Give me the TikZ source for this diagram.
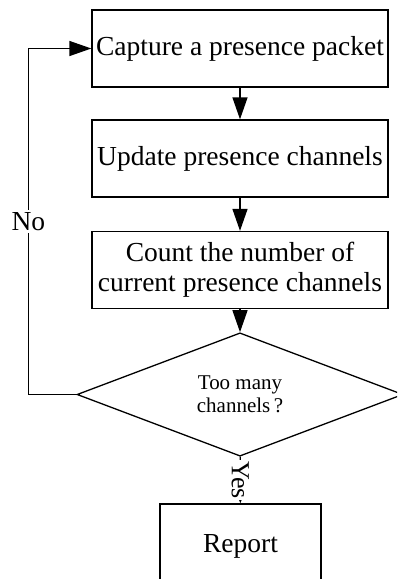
\documentclass[tikz,border=0pt]{standalone}
\usepackage{fontspec}
\setmainfont{Liberation Serif}
\usepackage{tikz}
\usetikzlibrary{arrows.meta,shapes.geometric}

\tikzset{
  block/.style={draw, line width=1.3pt, inner sep=0pt, align=center,
    minimum width=296pt, minimum height=77pt,
    font=\fontsize{27.5}{30}\selectfont},
  decision/.style={draw, shape=diamond, line width=1.3pt, inner sep=0pt,
    align=center, minimum width=326pt, minimum height=105pt,
    font=\fontsize{21}{23}\selectfont},
  flow/.style={-{Triangle[length=22pt,width=15pt]}, line width=1.3pt},
  yesflow/.style={-{Triangle[length=7pt,width=5pt]}, line width=1.3pt}
}

\begin{document}
\begin{tikzpicture}[x=1pt, y=1pt]
  % Page frame
  \useasboundingbox (0,0) rectangle (397,-579);
  \clip (0,0) rectangle (397,-579);
  % Draw steps
  \node[block] (capture) at (240,-48.5) {Capture a presence packet};
  \node[block] (update) at (240,-158.5) {Update presence channels};
  \node[block] (count) at (240,-270) {Count the number of\\current presence channels};
  \node[decision] (check) at (240,-394.5) {Too many\\channels\,?};
  \node[block, minimum width=161pt, minimum height=84pt] (report) at (240.5,-546) {Report};
  % Draw arrows
  \draw[flow] (capture) -- (update);
  \draw[flow] (update) -- (count);
  \draw[flow] (count) -- (check);
  \draw[yesflow] (check) -- node[fill=white, rotate=-90, inner sep=1pt,
    font=\fontsize{26}{28}\selectfont] {Yes} (report);
  \draw[flow] (check.west) -- ++(-48,0) |- node[pos=0.25, fill=white, inner sep=2pt,
    font=\fontsize{27.5}{30}\selectfont] {No} (capture.west);
\end{tikzpicture}
\end{document}
